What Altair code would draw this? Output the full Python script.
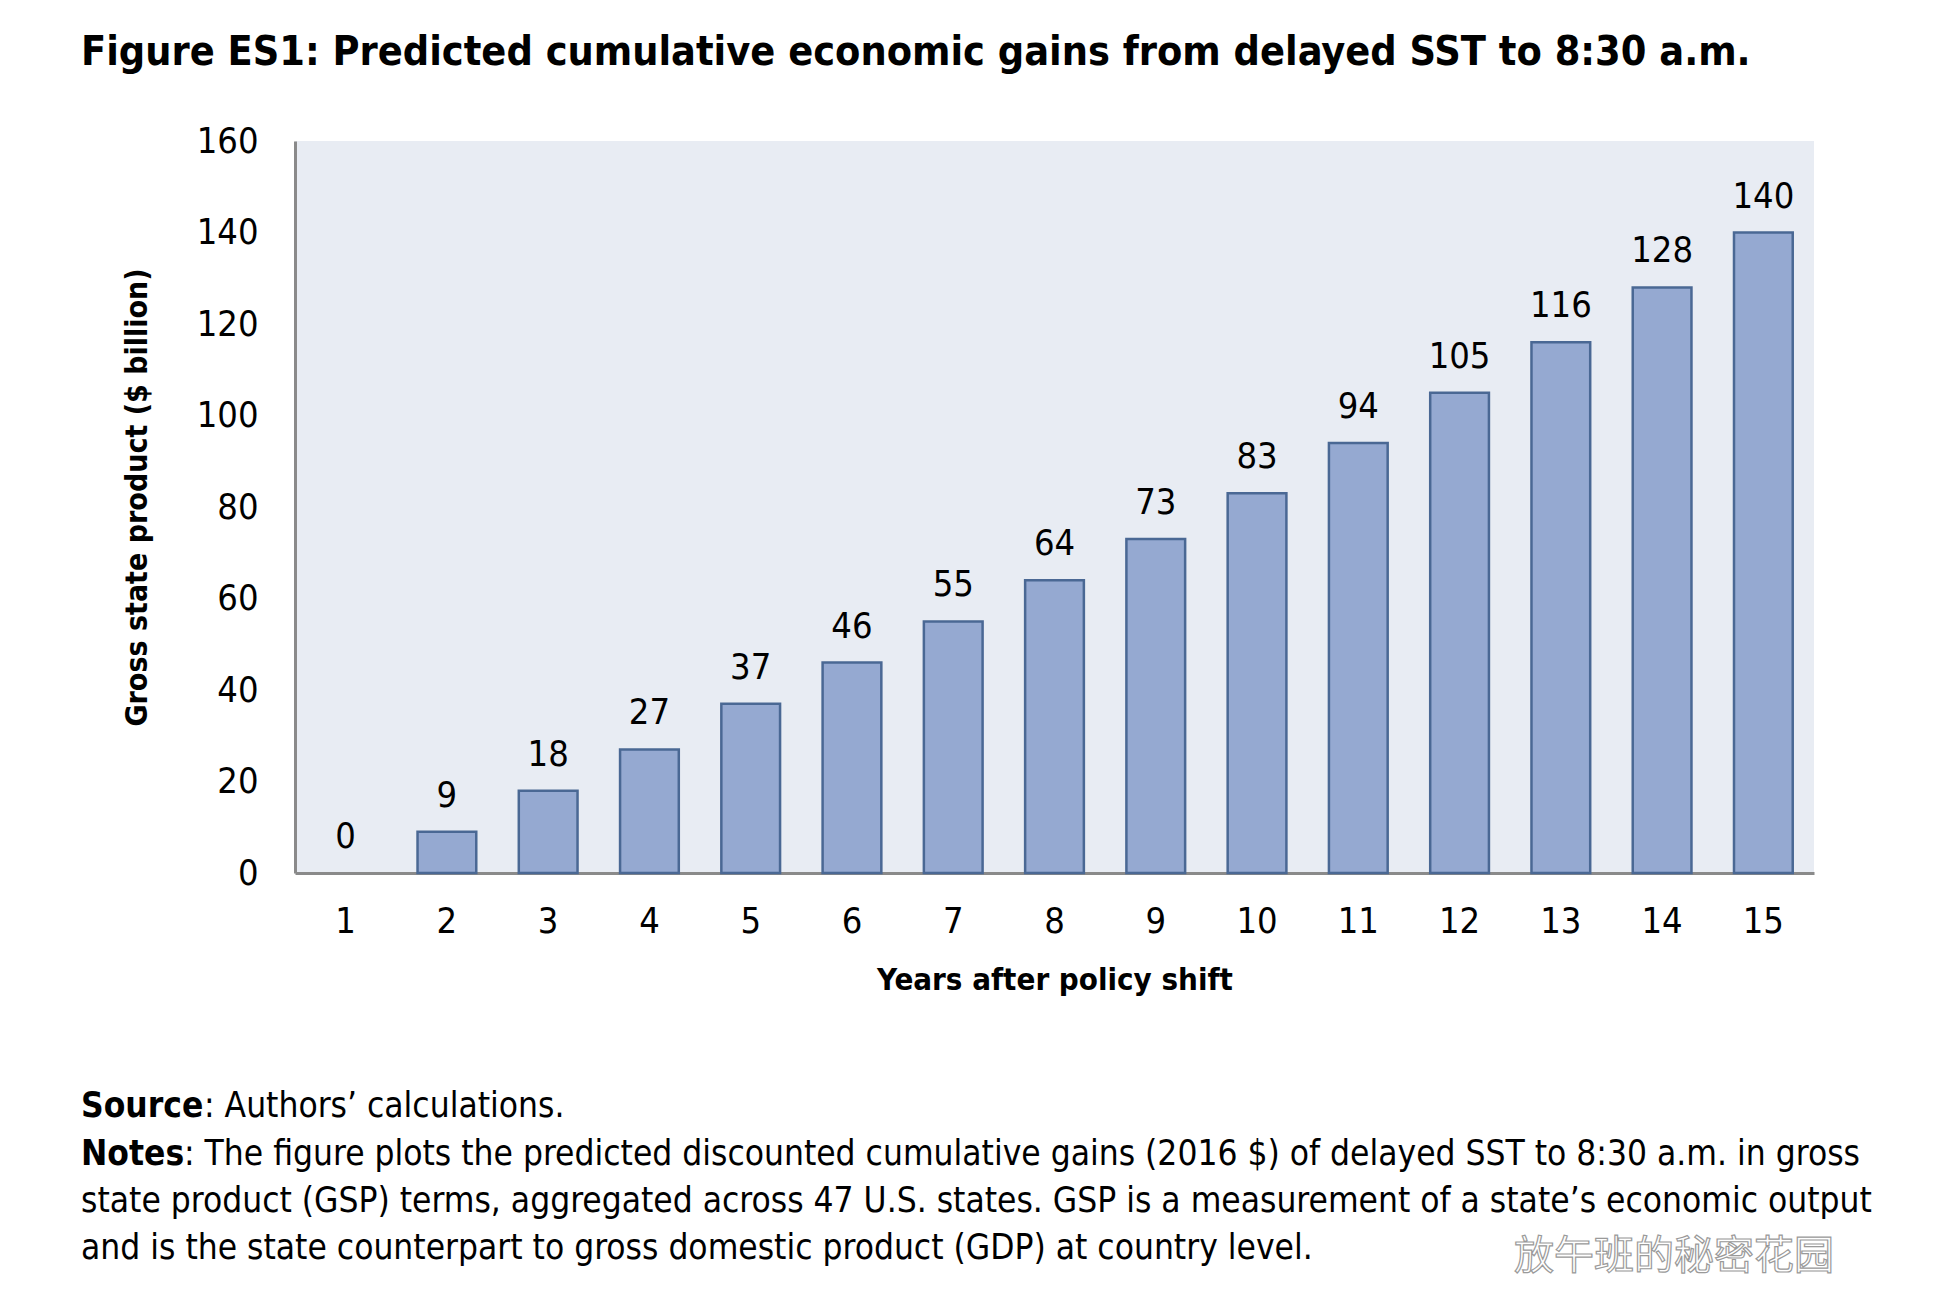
import altair as alt
import pandas as pd

# ---- data ----
years = [str(i) for i in range(1, 16)]
gains = [0, 9, 18, 27, 37, 46, 55, 64, 73, 83, 94, 105, 116, 128, 140]
y_ticks = [0, 20, 40, 60, 80, 100, 120, 140, 160]

title_text = "Figure ES1: Predicted cumulative economic gains from delayed SST to 8:30 a.m."
x_title = "Years after policy shift"
y_title = "Gross state product ($ billion)"
source_label = "Source"
source_text = ": Authors\u2019 calculations."
notes_label = "Notes"
notes_lines = [
    ": The figure plots the predicted discounted cumulative gains (2016 $) of delayed SST to 8:30 a.m. in gross",
    "state product (GSP) terms, aggregated across 47 U.S. states. GSP is a measurement of a state\u2019s economic output",
    "and is the state counterpart to gross domestic product (GDP) at country level.",
]
watermark = "放午班的秘密花园"

df = pd.DataFrame({"year": years, "gain": gains})

FONT = "Liberation Sans Narrow, DejaVu Sans Condensed, sans-serif"
W, H = 1519, 732
PL, PT = 295, 141

base = alt.Chart(df)

bars = base.mark_bar(color="#95A9D1", stroke="#4A6894", strokeWidth=2.5).encode(
    x=alt.X(
        "year:N",
        sort=years,
        scale=alt.Scale(paddingInner=0.42, paddingOuter=0.21),
        axis=alt.Axis(
            title=x_title,
            labelAngle=0,
            labelPadding=31,
            ticks=False,
            domainColor="#8A8A8A",
            domainWidth=3,
            titleFontWeight="bold",
            titleFontSize=31,
            titleY=107,
            titleBaseline="middle",
        ),
    ),
    y=alt.Y(
        "gain:Q",
        scale=alt.Scale(domain=[0, 160], nice=False),
        axis=alt.Axis(
            title=y_title,
            values=y_ticks,
            grid=False,
            ticks=False,
            labelPadding=37,
            domainColor="#8A8A8A",
            domainWidth=3,
            titleFontWeight="bold",
            titleFontSize=30,
            titleX=-158,
            titleY=H / 2 - 10,
            titleAngle=-90,
            titleAlign="center",
            titleBaseline="middle",
        ),
    ),
).transform_filter(alt.datum.gain > 0)

labels = base.mark_text(
    baseline="alphabetic", dy=-25, fontSize=36, font=FONT, color="black"
).encode(
    x=alt.X("year:N", sort=years),
    y=alt.Y("gain:Q"),
    text=alt.Text("gain:Q"),
)


def txt(s, x, y, size=35, weight="normal", color="black", font=FONT, **kw):
    return alt.Chart(alt.Data(values=[{"t": s}])).mark_text(
        align="left",
        baseline="alphabetic",
        fontSize=size,
        fontWeight=weight,
        font=font,
        color=color,
        **kw,
    ).encode(x=alt.value(x), y=alt.value(y), text=alt.Text("t:N"))


layers = [
    bars,
    labels,
    txt(title_text, -214, -76, size=41, weight="bold"),
    txt(source_label, -214, 976, weight="bold"),
    txt(source_text, -91, 976),
    txt(notes_label, -214, 1024, weight="bold"),
    txt(notes_lines[0], -111, 1024),
    txt(notes_lines[1], -214, 1071),
    txt(notes_lines[2], -214, 1118),
    txt(watermark, 1219, 1128, size=40, color="white",
        font="Noto Sans CJK SC", stroke="#9A9A9A", strokeWidth=1.2),
]

chart = alt.layer(*layers).properties(
    width=W,
    height=H,
    autosize=alt.AutoSizeParams(type="none"),
    padding={"left": PL, "top": PT, "right": 1958 - PL - W, "bottom": 1306 - PT - H},
    background="white",
).configure_view(
    fill="#E8ECF3", stroke=None
).configure_axis(
    labelFont=FONT,
    labelFontSize=36,
    labelColor="black",
    titleFont=FONT,
    titleColor="black",
)

chart.save("out.html", embed_options={"renderer": "svg", "actions": False})
